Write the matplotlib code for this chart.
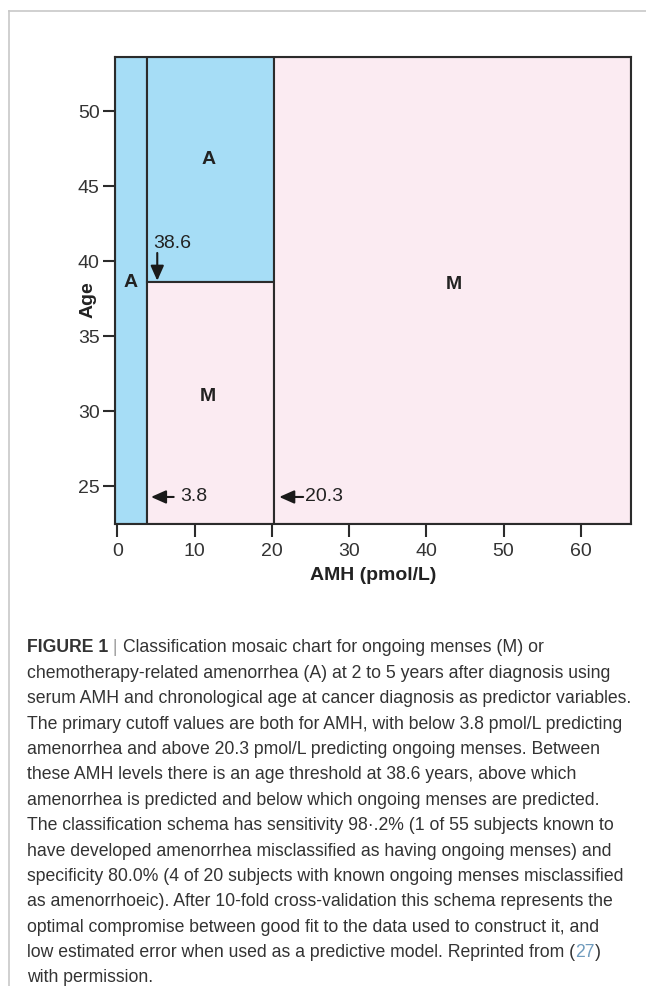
import matplotlib
matplotlib.use("Agg")
import matplotlib.pyplot as plt
from matplotlib.lines import Line2D

plt.rcParams['font.family'] = ['Liberation Sans', 'DejaVu Sans']

# classification cutoffs and axis extents (pmol/L, years)
amh_low = 3.8
amh_high = 20.3
age_cut = 38.6
amh_min, amh_max = -0.3, 66.5
age_min, age_max = 22.5, 53.6

# rectangles: (left, right, bottom, top, class)
regions = [
    (amh_min, amh_low, age_min, age_max, "A"),
    (amh_low, amh_high, age_cut, age_max, "A"),
    (amh_low, amh_high, age_min, age_cut, "M"),
    (amh_high, amh_max, age_min, age_max, "M"),
]
# where each class letter sits
label_pos = [(1.75, 38.6, "A"), (11.8, 46.8, "A"), (11.75, 31.0, "M"), (43.5, 38.45, "M")]

xticks = [0, 10, 20, 30, 40, 50, 60]
yticks = [25, 30, 35, 40, 45, 50]

caption = [
    "chemotherapy-related amenorrhea (A) at 2 to 5 years after diagnosis using",
    "serum AMH and chronological age at cancer diagnosis as predictor variables.",
    "The primary cutoff values are both for AMH, with below 3.8 pmol/L predicting",
    "amenorrhea and above 20.3 pmol/L predicting ongoing menses. Between",
    "these AMH levels there is an age threshold at 38.6 years, above which",
    "amenorrhea is predicted and below which ongoing menses are predicted.",
    "The classification schema has sensitivity 98\u00b7.2% (1 of 55 subjects known to",
    "have developed amenorrhea misclassified as having ongoing menses) and",
    "specificity 80.0% (4 of 20 subjects with known ongoing menses misclassified",
    "as amenorrhoeic). After 10-fold cross-validation this schema represents the",
    "optimal compromise between good fit to the data used to construct it, and",
]

colors = {"A": "#a6ddf6", "M": "#fbebf2"}
dark = "#2b2b2b"

W, H = 646, 986
fig = plt.figure(figsize=(W / 100, H / 100), dpi=100)
ax = fig.add_axes([115 / W, 1 - 524 / H, (631 - 115) / W, (524 - 57) / H])

for l, r, b, t, c in regions:
    ax.bar(l, t - b, width=r - l, bottom=b, align="edge", color=colors[c],
           edgecolor=dark, linewidth=1.5, zorder=1)

for x, y, s in label_pos:
    ax.text(x, y, s, ha="center", va="center", fontsize=14, fontweight="bold",
            color="#222222", zorder=3)

ap = dict(arrowstyle="-|>,head_length=0.45,head_width=0.2", color="#1a1a1a",
          lw=1.5, mutation_scale=20, shrinkA=0, shrinkB=0)
ax.annotate("", xy=(5.17, 38.7), xytext=(5.17, 40.55), arrowprops=ap, zorder=4)
ax.text(4.6, 41.2, "38.6", ha="left", va="center", fontsize=14, color="#222222")
ax.annotate("", xy=(4.36, 24.3), xytext=(7.3, 24.3), arrowprops=ap, zorder=4)
ax.text(8.1, 24.3, "3.8", ha="left", va="center", fontsize=14, color="#222222")
ax.annotate("", xy=(20.96, 24.3), xytext=(24.06, 24.3), arrowprops=ap, zorder=4)
ax.text(24.3, 24.3, "20.3", ha="left", va="center", fontsize=14, color="#222222")

ax.set_xlim(amh_min, amh_max)
ax.set_ylim(age_min, age_max)
ax.set_xticks(xticks)
ax.set_yticks(yticks)
for sp in ax.spines.values():
    sp.set_linewidth(1.5)
    sp.set_color(dark)
    sp.set_zorder(5)
ax.tick_params(direction="out", length=9, width=1.5, color=dark,
               labelsize=14, labelcolor="#333333")
ax.tick_params(axis="x", pad=5)
ax.tick_params(axis="y", pad=2)
ax.set_xlabel("AMH (pmol/L)", fontsize=14, fontweight="bold", color="#222222", labelpad=5)
ax.set_ylabel("Age", fontsize=14, fontweight="bold", color="#222222")
ax.yaxis.label.set_va("center")
ax.yaxis.set_label_coords((88 - 115) / (631 - 115), (524 - 300) / (524 - 57))

# frame around the figure panel
fig.add_artist(Line2D([9 / W, 1], [1 - 10.7 / H] * 2, color="#c8c8c8", lw=1.2))
fig.add_artist(Line2D([9 / W] * 2, [0, 1 - 10.7 / H], color="#c8c8c8", lw=1.2))

# caption
fs = 12.7
cap_font = dict(fontsize=fs, color="#333333")
x0 = 27 / W
y0, dy = 648, 25.38
t1 = fig.text(x0, 1 - y0 / H, "FIGURE 1", fontweight="bold", va="center", **cap_font)
a2 = plt.annotate(" | ", xy=(1, 0), xycoords=t1, va="bottom", ha="left",
                  fontsize=fs, color="#999999")
plt.annotate("Classification mosaic chart for ongoing menses (M) or", xy=(1, 0),
             xycoords=a2, va="bottom", ha="left", **cap_font)
for i, line in enumerate(caption):
    fig.text(x0, 1 - (y0 + dy * (i + 1)) / H, line, va="center", **cap_font)
i = len(caption) + 1
t3 = fig.text(x0, 1 - (y0 + dy * i) / H,
              "low estimated error when used as a predictive model. Reprinted from (",
              va="center", **cap_font)
t4 = plt.annotate("27", xy=(1, 0), xycoords=t3, va="bottom", ha="left",
                  fontsize=fs, color="#6f9bbd")
plt.annotate(")", xy=(1, 0), xycoords=t4, va="bottom", ha="left", **cap_font)
fig.text(x0, 1 - (y0 + dy * (i + 1)) / H, "with permission.", va="center", **cap_font)

fig.savefig("out.png", dpi=100)
